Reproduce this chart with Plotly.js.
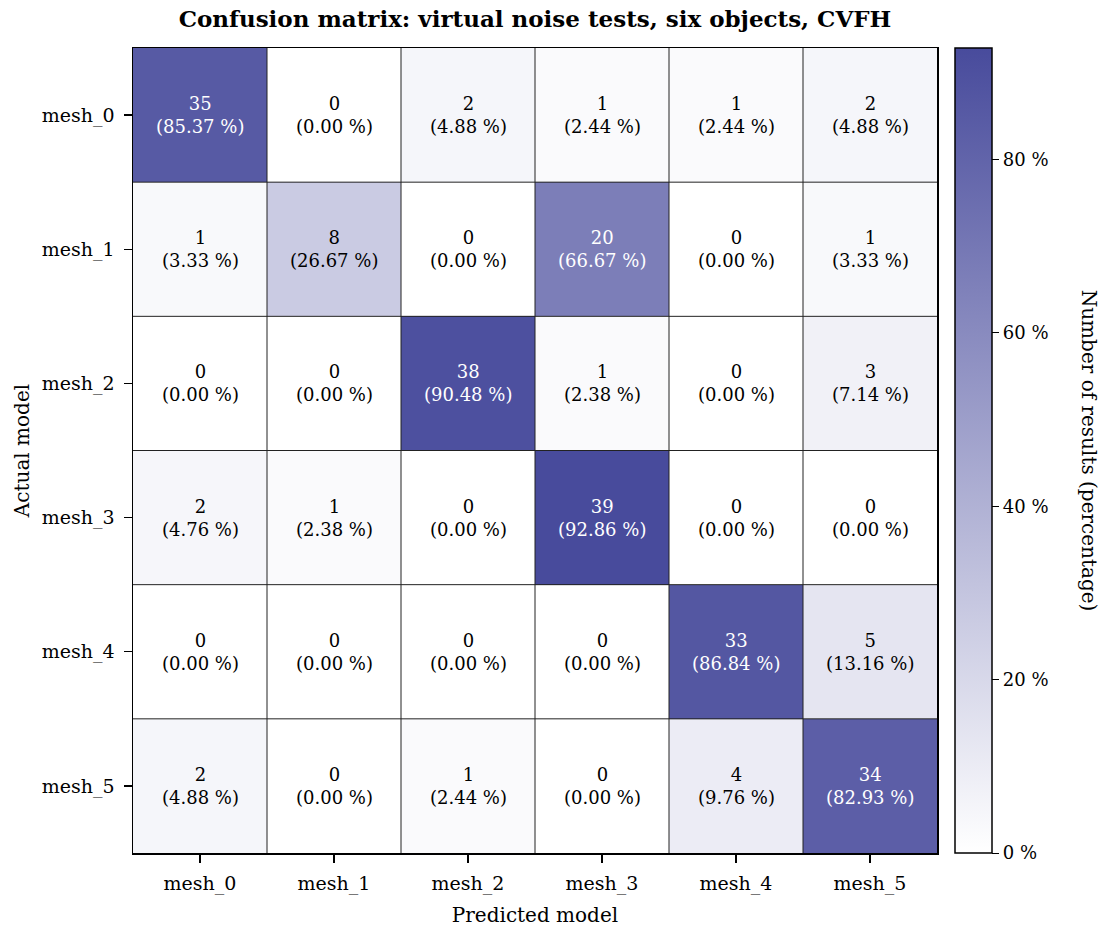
<!DOCTYPE html>
<html>
<head>
<meta charset="utf-8">
<script src="https://cdn.plot.ly/plotly-3.0.1.min.js"></script>
<style>html,body{margin:0;padding:0;background:#fff;}#chart{width:1107px;height:927px;}</style>
</head>
<body>
<div id="chart"></div>
<script>
const labels = ["mesh_0","mesh_1","mesh_2","mesh_3","mesh_4","mesh_5"];
const counts = [
  [35, 0, 2, 1, 1, 2],
  [1, 8, 0, 20, 0, 1],
  [0, 0, 38, 1, 0, 3],
  [2, 1, 0, 39, 0, 0],
  [0, 0, 0, 0, 33, 5],
  [2, 0, 1, 0, 4, 34]
];
const percents = [
  [85.37, 0.00, 4.88, 2.44, 2.44, 4.88],
  [3.33, 26.67, 0.00, 66.67, 0.00, 3.33],
  [0.00, 0.00, 90.48, 2.38, 0.00, 7.14],
  [4.76, 2.38, 0.00, 92.86, 0.00, 0.00],
  [0.00, 0.00, 0.00, 0.00, 86.84, 13.16],
  [4.88, 0.00, 2.44, 0.00, 9.76, 82.93]
];
const colorbarTicks = [0, 20, 40, 60, 80];
const colorbarTickText = ["0 %", "20 %", "40 %", "60 %", "80 %"];

const FONT = "DejaVu Serif, serif";
const zmax = Math.max(...percents.flat());

const trace = {
  type: "heatmap",
  x: labels,
  y: labels,
  z: percents,
  zmin: 0,
  zmax: zmax,
  colorscale: [[0, "#ffffff"], [1, "rgb(72,75,156)"]],
  hoverinfo: "skip",
  colorbar: {
    x: 1.0224, xanchor: "left", xpad: 0, ypad: 0,
    y: 0.5, yanchor: "middle", len: 1, lenmode: "fraction",
    thickness: 37, thicknessmode: "pixels",
    outlinewidth: 1.5, outlinecolor: "#000",
    tickmode: "array", tickvals: colorbarTicks, ticktext: colorbarTickText,
    ticks: "outside", ticklen: 7, tickwidth: 1, tickcolor: "#000",
    tickfont: {family: FONT, size: 18, color: "#000"}
  }
};

const annotations = [];
for (let i = 0; i < labels.length; i++) {
  for (let j = 0; j < labels.length; j++) {
    const p = percents[i][j];
    annotations.push({
      x: labels[j], y: labels[i], xref: "x", yref: "y",
      text: counts[i][j] + "<br>(" + p.toFixed(2) + " %)",
      showarrow: false,
      font: {family: FONT, size: 18, color: p > zmax / 2 ? "#ffffff" : "#000000"}
    });
  }
}
annotations.push({
  xref: "paper", yref: "paper", x: 1.19, xanchor: "center", y: 0.5,
  text: "Number of results (percentage)", textangle: 90, showarrow: false,
  font: {family: FONT, size: 20, color: "#000"}
});

const shapes = [];
for (let k = 1; k < labels.length; k++) {
  shapes.push({type: "line", xref: "x", yref: "paper", x0: k - 0.5, x1: k - 0.5, y0: 0, y1: 1,
               line: {color: "#222", width: 1}});
  shapes.push({type: "line", xref: "paper", yref: "y", x0: 0, x1: 1, y0: k - 0.5, y1: k - 0.5,
               line: {color: "#222", width: 1}});
}

const layout = {
  width: 1107, height: 927,
  margin: {l: 133, r: 170, t: 48, b: 74},
  paper_bgcolor: "#fff", plot_bgcolor: "#fff",
  title: {text: "<b>Confusion matrix: virtual noise tests, six objects, CVFH</b>",
          x: 0.4833, xanchor: "center", y: 0.98, yanchor: "middle",
          font: {family: FONT, size: 23, color: "#000"}},
  xaxis: {
    type: "category", showgrid: false, zeroline: false,
    showline: true, linecolor: "#000", linewidth: 1.5, mirror: true,
    ticks: "outside", ticklen: 8, tickwidth: 1.2, tickcolor: "#000",
    ticklabelstandoff: 5,
    tickfont: {family: FONT, size: 19, color: "#000"},
    title: {text: "Predicted model", standoff: 14, font: {family: FONT, size: 20, color: "#000"}}
  },
  yaxis: {
    type: "category", autorange: "reversed", showgrid: false, zeroline: false,
    showline: true, linecolor: "#000", linewidth: 1.5, mirror: true,
    ticks: "outside", ticklen: 8, tickwidth: 1.2, tickcolor: "#000",
    ticklabelstandoff: 5,
    tickfont: {family: FONT, size: 19, color: "#000"},
    title: {text: "Actual model", standoff: 7, font: {family: FONT, size: 20, color: "#000"}}
  },
  annotations: annotations,
  shapes: shapes
};

Plotly.newPlot("chart", [trace], layout, {displayModeBar: false, staticPlot: true});
</script>
</body>
</html>
